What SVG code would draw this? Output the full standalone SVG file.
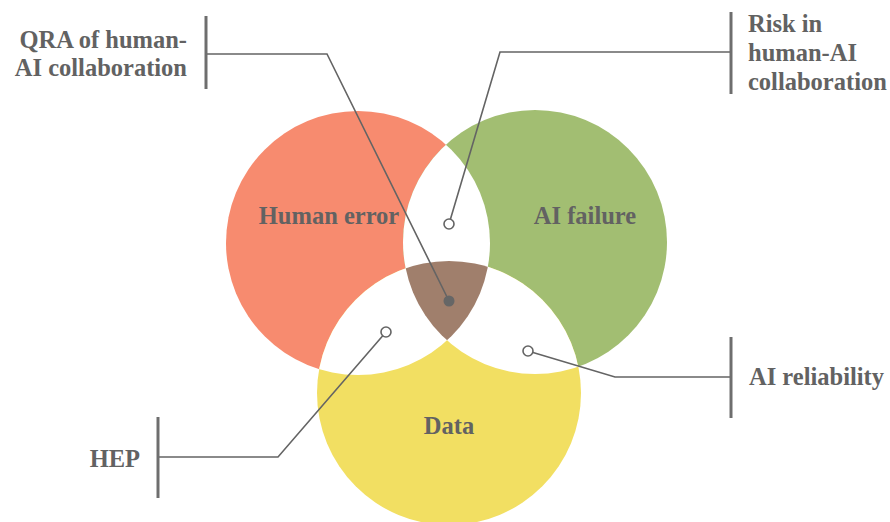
<svg xmlns="http://www.w3.org/2000/svg" width="890" height="522" viewBox="0 0 890 522">
<style>
text{font-family:'Liberation Serif','Times New Roman',Times,serif;font-weight:700;font-size:24.5px;fill:#626262}
.bar{stroke:#6e6e6e;stroke-width:3;fill:none}
.ln{stroke:#646464;stroke-width:1.6;fill:none}
.dot{fill:#fff;stroke:#646464;stroke-width:1.6}
</style>
<defs>
<clipPath id="cR"><circle cx="358" cy="243" r="132"/></clipPath>
<clipPath id="cG"><circle cx="535" cy="242" r="132"/></clipPath>
<clipPath id="cY"><circle cx="449" cy="393" r="132"/></clipPath>
</defs>
<rect width="890" height="522" fill="#fff"/>
<g id="venn">
<g id="human-error">
<circle cx="358" cy="243" r="132" fill="#F78B6F"/>
</g>
<g id="ai-failure">
<circle cx="535" cy="242" r="132" fill="#A2BE72"/>
</g>
<g id="data">
<circle cx="449" cy="393" r="132" fill="#F2DF62"/>
</g>
<g id="overlaps">
<circle cx="535" cy="242" r="132" fill="#fff" clip-path="url(#cR)"/>
<circle cx="449" cy="393" r="132" fill="#fff" clip-path="url(#cR)"/>
<circle cx="449" cy="393" r="132" fill="#fff" clip-path="url(#cG)"/>
<g clip-path="url(#cR)"><circle cx="449" cy="393" r="132" fill="#A07F6C" clip-path="url(#cG)"/></g>
</g>
<text x="329" y="224" text-anchor="middle" font-family="Liberation Serif, serif">Human error</text>
<text x="585" y="224" text-anchor="middle" font-family="Liberation Serif, serif">AI failure</text>
<text x="449" y="434" text-anchor="middle" font-family="Liberation Serif, serif">Data</text>
</g>
<g id="connectors">
<polyline class="ln" points="206,54 327,54 449,301"/>
<polyline class="ln" points="731,52 500,52 449,224"/>
<polyline class="ln" points="158,457 278,457 386,332"/>
<polyline class="ln" points="731,377 615,377 528,351"/>
<circle cx="449" cy="301" r="5.5" fill="#666"/>
<circle class="dot" cx="449" cy="224" r="5"/>
<circle class="dot" cx="386" cy="332" r="5"/>
<circle class="dot" cx="528" cy="351" r="5"/>
</g>
<g id="label-qra">
<line class="bar" x1="206" y1="16" x2="206" y2="89"/>
<text x="187" y="48" text-anchor="end">QRA of human-</text>
<text x="187" y="76" text-anchor="end">AI collaboration</text>
</g>
<g id="label-risk">
<line class="bar" x1="731" y1="12" x2="731" y2="94"/>
<text x="748" y="32">Risk in</text>
<text x="748" y="61">human-AI</text>
<text x="748" y="90">collaboration</text>
</g>
<g id="label-hep">
<line class="bar" x1="158" y1="417" x2="158" y2="498"/>
<text x="140" y="467" text-anchor="end">HEP</text>
</g>
<g id="label-reliability">
<line class="bar" x1="731" y1="337" x2="731" y2="418"/>
<text x="749" y="385">AI reliability</text>
</g>
</svg>
